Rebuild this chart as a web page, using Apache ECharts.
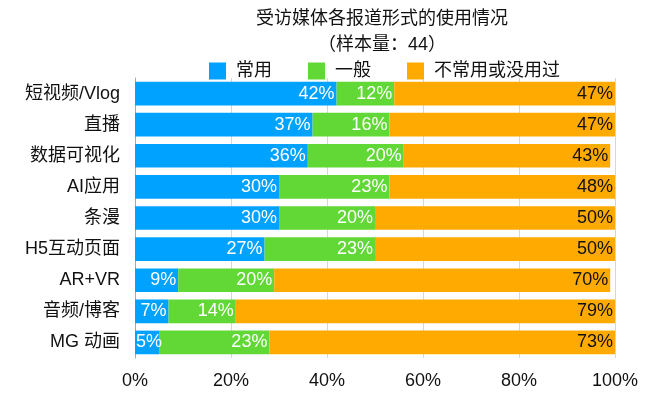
<!DOCTYPE html>
<html lang="zh">

<head>
    <meta charset="UTF-8">
    <title>受访媒体各报道形式的使用情况</title>
    <script src="https://cdn.jsdelivr.net/npm/echarts@6/dist/echarts.min.js"></script>
    <style>
        * {
            margin: 0;
            padding: 0
        }

        html,
        body {
            width: 100%;
            height: 100%;
            background: #fff;
        }

        #main {
            width: 663px;
            height: 399px;
        }
    </style>
</head>

<body>
    <div id="main"></div>
    <script type="text/javascript">
        var categories = ['短视频/Vlog', '直播', '数据可视化', 'AI应用', '条漫', 'H5互动页面', 'AR+VR', '音频/博客', 'MG 动画'];
        var seriesNames = ['常用', '一般', '不常用或没用过'];
        var often = [42, 37, 36, 30, 30, 27, 9, 7, 5];
        var normal = [12, 16, 20, 23, 20, 23, 20, 14, 23];
        var rarely = [47, 47, 43, 48, 50, 50, 70, 79, 73];
        var xTicks = [0, 20, 40, 60, 80, 100];

        var font = 'Helvetica, Arial, "Noto Sans CJK SC", sans-serif';
        var colors = ['#00A2FF', '#61D836', '#FFAA00'];

        function makeSeries(name, data, color, labelColor) {
            return {
                name: name,
                type: 'bar',
                stack: 'total',
                // 太窄的段标签放左边，避免被裁掉
                data: data.map(function (v) {
                    return v < 6 ? { value: v, label: { position: 'insideLeft', distance: 1 } } : v;
                }),
                barCategoryGap: '24%',
                itemStyle: { color: color },
                label: {
                    show: true,
                    position: 'insideRight',
                    distance: 2,
                    formatter: '{c}%',
                    color: labelColor,
                    fontSize: 18,
                    fontFamily: font
                },
                emphasis: { disabled: true }
            };
        }

        var myChart = echarts.init(document.getElementById('main'));
        var option = {
            animation: false,
            textStyle: { fontFamily: font },
            title: {
                text: '受访媒体各报道形式的使用情况',
                subtext: '（样本量：44）',
                left: 377,
                textAlign: 'center',
                top: 5,
                itemGap: 8,
                textStyle: { fontSize: 18, fontWeight: 'normal', color: '#111', fontFamily: font },
                subtextStyle: { fontSize: 18, color: '#111', fontFamily: font }
            },
            legend: {
                data: seriesNames,
                top: 57,
                left: 204,
                itemWidth: 17,
                itemHeight: 17,
                itemGap: 36,
                icon: 'rect',
                textStyle: { fontSize: 18, color: '#111', fontFamily: font, padding: [0, 0, 0, 5] }
            },
            grid: {
                left: 135,
                right: 48,
                top: 78,
                bottom: 41,
                containLabel: false
            },
            xAxis: {
                type: 'value',
                min: 0,
                max: 100,
                interval: 20,
                axisLabel: {
                    formatter: function (v) { return xTicks.indexOf(v) >= 0 ? v + '%' : ''; },
                    fontSize: 18,
                    color: '#111',
                    margin: 14
                },
                axisLine: { show: false },
                axisTick: { show: false },
                splitLine: { lineStyle: { color: '#d6d6d6', width: 1 } }
            },
            yAxis: {
                type: 'category',
                data: categories,
                inverse: true,
                axisLabel: { fontSize: 18, color: '#111', margin: 15 },
                axisLine: { lineStyle: { color: '#a8a8a8', width: 1 } },
                axisTick: { show: false }
            },
            series: [
                makeSeries(seriesNames[0], often, colors[0], '#fff'),
                makeSeries(seriesNames[1], normal, colors[1], '#fff'),
                makeSeries(seriesNames[2], rarely, colors[2], '#111')
            ]
        };
        myChart.setOption(option);
    </script>
</body>

</html>
